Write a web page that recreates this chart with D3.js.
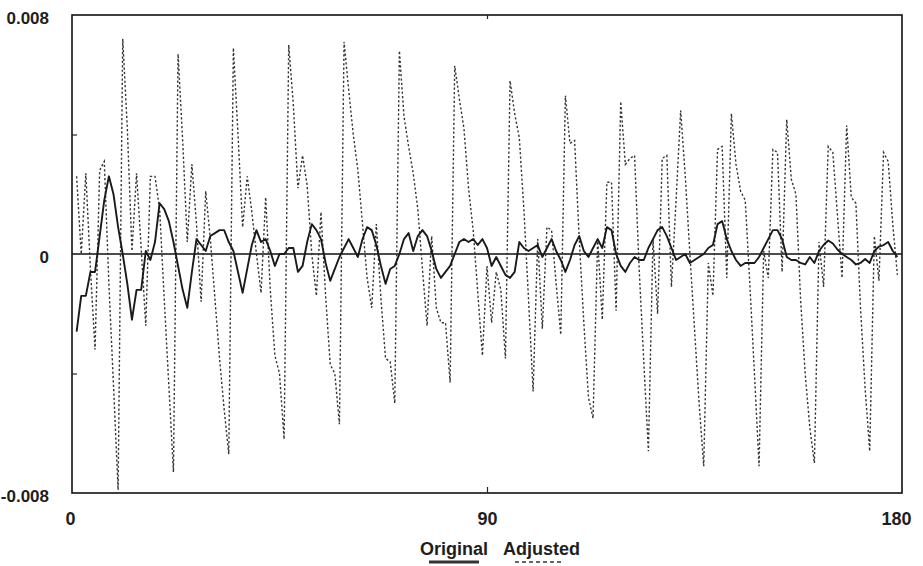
<!DOCTYPE html>
<html>
<head>
<meta charset="utf-8">
<script src="https://cdn.jsdelivr.net/npm/d3@7"></script>
<style>
  html, body { margin: 0; padding: 0; background: #fff; }
  svg { display: block; }
  .lbl { font-family: "Liberation Sans", Arial, sans-serif; font-size: 18px; font-weight: bold; fill: #1e1e1e; }
  .ylbl { font-size: 17px; }
</style>
</head>
<body>
<div id="chart"></div>
<script>
// monthly series, first value is month 1
const firstMonth = 1;

// "Original" (solid line)
const original = [
  -0.0026, -0.0014, -0.0014, -0.0006, -0.0006, 0.0006, 0.0018, 0.0026, 0.0020, 0.0009, 0.0000, -0.0010,
  -0.0022, -0.0012, -0.0012, 0.0001, -0.0002, 0.0004, 0.0017, 0.0015, 0.0011, 0.0004, -0.0004, -0.0012,
  -0.0018, -0.0006, 0.0005, 0.0003, 0.0001, 0.0006, 0.0007, 0.0008, 0.0008, 0.0004, 0.0001, -0.0006,
  -0.0013, -0.0005, 0.0003, 0.0008, 0.0004, 0.0005, 0.0001, -0.0004, 0.0000, 0.0000, 0.0002, 0.0002,
  -0.0006, -0.0004, 0.0004, 0.0010, 0.0008, 0.0005, -0.0003, -0.0009, -0.0005, -0.0001, 0.0002, 0.0005,
  0.0002, -0.0001, 0.0005, 0.0009, 0.0008, 0.0003, -0.0004, -0.0010, -0.0005, -0.0004, 0.0000, 0.0005,
  0.0007, 0.0001, 0.0006, 0.0008, 0.0006, 0.0001, -0.0005, -0.0008, -0.0006, -0.0004, 0.0000, 0.0004,
  0.0005, 0.0004, 0.0005, 0.0003, 0.0005, 0.0002, -0.0004, -0.0001, -0.0004, -0.0007, -0.0008, -0.0006,
  0.0004, 0.0002, 0.0001, 0.0002, 0.0003, -0.0001, 0.0002, 0.0005, 0.0001, -0.0002, -0.0006, -0.0002,
  0.0003, 0.0006, 0.0001, -0.0001, 0.0002, 0.0005, 0.0002, 0.0009, 0.0008, 0.0000, -0.0004, -0.0006,
  -0.0003, -0.0001, -0.0002, -0.0002, 0.0002, 0.0005, 0.0008, 0.0009, 0.0006, 0.0002, -0.0002, -0.0001,
  0.0000, -0.0003, -0.0002, -0.0001, 0.0000, 0.0002, 0.0003, 0.0010, 0.0011, 0.0005, 0.0001, -0.0002,
  -0.0004, -0.0003, -0.0003, -0.0003, -0.0001, 0.0002, 0.0005, 0.0008, 0.0008, 0.0005, -0.0001, -0.0002,
  -0.0002, -0.0003, -0.00035, -0.0001, -0.0003, 0.0001, 0.0003, 0.00045, 0.00035, 0.00015, 0.0000, -0.0001,
  -0.0002, -0.00035, -0.0003, -0.00017, -0.0003, 0.0001, 0.00025, 0.0003, 0.0004, 0.0001, -0.0001
];

// "Adjusted" (dotted line)
const adjusted = [
  0.0026, 0.0000, 0.0027, -0.0005, -0.0032, 0.0028, 0.0031, -0.0010, -0.0044, -0.0079, 0.0072, 0.0042,
  0.0001, 0.0027, 0.0002, -0.0024, 0.0026, 0.0026, 0.0015, -0.0015, -0.0044, -0.0073, 0.0067, 0.0038,
  0.0004, 0.0030, 0.0010, -0.0016, 0.0021, 0.0005, -0.0015, -0.0035, -0.0052, -0.0067, 0.0069, 0.0040,
  0.0009, 0.0026, 0.0014, 0.0000, -0.0013, 0.0019, -0.0012, -0.0034, -0.0040, -0.0062, 0.0070, 0.0050,
  0.0022, 0.0033, 0.0023, 0.0000, -0.0014, 0.0014, -0.0014, -0.0037, -0.0040, -0.0057, 0.0071, 0.0055,
  0.0040, 0.0028, 0.0010, -0.0008, -0.0018, 0.0010, -0.0015, -0.0035, -0.0036, -0.0050, 0.0068, 0.0046,
  0.0036, 0.0027, 0.0015, -0.0005, -0.0024, 0.0006, -0.0018, -0.0023, -0.0023, -0.0043, 0.0063, 0.0052,
  0.0042, 0.0022, 0.0008, -0.0013, -0.0034, -0.0004, -0.0023, -0.0006, -0.0012, -0.0035, 0.0058, 0.0047,
  0.0039, 0.0015, -0.0015, -0.0046, 0.0005, -0.0025, 0.0009, 0.0008, -0.0010, -0.0027, 0.0053, 0.0037,
  0.0038, 0.0005, -0.0023, -0.0048, -0.0055, 0.0005, -0.0022, 0.0024, 0.0024, -0.0019, 0.0051, 0.0030,
  0.0032, 0.0033, -0.0005, -0.0036, -0.0066, 0.0005, -0.0020, 0.0032, 0.0033, -0.0011, 0.0018, 0.0048,
  0.0026, 0.0000, -0.0025, -0.0050, -0.0071, -0.0003, -0.0014, 0.0035, 0.0036, -0.0008, 0.0047, 0.0030,
  0.0021, 0.0018, -0.0010, -0.0040, -0.0071, 0.0001, -0.0008, 0.0035, 0.0034, -0.0006, 0.0045, 0.0025,
  0.0020, -0.0015, -0.0040, -0.0058, -0.0070, 0.0004, -0.0011, 0.0036, 0.0034, 0.0013, -0.0008, 0.0043,
  0.0019, 0.0017, -0.0018, -0.0045, -0.0066, 0.0006, -0.0009, 0.0034, 0.0031, 0.0010, -0.0007
];

const xTicks = [0, 90, 180];
const yTicks = [0.008, 0, -0.008];
const yTickLabels = ["0.008", "0", "-0.008"];
const yMinorTicks = [0.004, -0.004];
const seriesNames = ["Original", "Adjusted"];

const width = 923, height = 566;
const plot = {left: 72, right: 902, top: 15, bottom: 493};

const svg = d3.select("#chart").append("svg")
  .attr("width", width)
  .attr("height", height);

svg.append("rect").attr("width", width).attr("height", height).attr("fill", "#fff");

const x = d3.scaleLinear().domain([0, 180]).range([plot.left, plot.right]);
const y = d3.scaleLinear().domain([-0.008, 0.008]).range([plot.bottom, plot.top]);

// frame
svg.append("rect")
  .attr("x", plot.left).attr("y", plot.top)
  .attr("width", plot.right - plot.left)
  .attr("height", plot.bottom - plot.top)
  .attr("fill", "none")
  .attr("stroke", "#111")
  .attr("stroke-width", 1.6);

// y tick labels
const yAxis = svg.append("g")
  .attr("transform", `translate(${plot.left},3)`)
  .call(d3.axisLeft(y).tickValues(yTicks).tickSize(0).tickPadding(23)
    .tickFormat((d, i) => yTickLabels[i]));
yAxis.select(".domain").remove();
yAxis.selectAll("text").attr("class", "lbl ylbl").attr("font-size", null).attr("font-family", null);

// small inner ticks on left axis
svg.append("g")
  .attr("transform", `translate(${plot.left},0)`)
  .call(d3.axisRight(y).tickValues(yMinorTicks).tickSize(5).tickFormat(""))
  .call(g => g.select(".domain").remove())
  .selectAll("line").attr("stroke", "#222").attr("stroke-width", 1.2);

// x tick labels
const xAxis = svg.append("g")
  .attr("transform", `translate(0,${plot.bottom})`)
  .call(d3.axisBottom(x).tickValues(xTicks).tickSize(0).tickPadding(19)
    .tickFormat(d3.format("d")));
xAxis.select(".domain").remove();
xAxis.selectAll("text").attr("class", "lbl").attr("font-size", null).attr("font-family", null)
  .attr("dx", d => d === 0 ? -2 : d === 180 ? -6 : 0);

// inner tick at 90 (bottom and top)
svg.append("g")
  .attr("transform", `translate(0,${plot.bottom})`)
  .call(d3.axisTop(x).tickValues([90]).tickSize(6).tickFormat(""))
  .call(g => g.select(".domain").remove())
  .selectAll("line").attr("stroke", "#222").attr("stroke-width", 1.2);
svg.append("g")
  .attr("transform", `translate(0,${plot.top})`)
  .call(d3.axisBottom(x).tickValues([90]).tickSize(4).tickFormat(""))
  .call(g => g.select(".domain").remove())
  .selectAll("line").attr("stroke", "#222").attr("stroke-width", 1.2);

// zero line
svg.append("line")
  .attr("x1", plot.left).attr("x2", plot.right)
  .attr("y1", y(0)).attr("y2", y(0))
  .attr("stroke", "#111").attr("stroke-width", 1.4);

const line = d3.line()
  .x((d, i) => x(firstMonth + i))
  .y(d => y(d));

// dotted series
svg.append("path")
  .datum(adjusted)
  .attr("d", line)
  .attr("fill", "none")
  .attr("stroke", "#333")
  .attr("stroke-width", 1.4)
  .attr("stroke-dasharray", "2.2,2.2");

// solid series
svg.append("path")
  .datum(original)
  .attr("d", line)
  .attr("fill", "none")
  .attr("stroke", "#1a1a1a")
  .attr("stroke-width", 1.9)
  .attr("stroke-linejoin", "round");

// legend
const legend = svg.append("g");
legend.append("text").attr("class", "lbl")
  .attr("x", 420).attr("y", 555).text(seriesNames[0]);
legend.append("text").attr("class", "lbl")
  .attr("x", 503).attr("y", 555).text(seriesNames[1]);
legend.append("line")
  .attr("x1", 429).attr("x2", 479).attr("y1", 562).attr("y2", 562)
  .attr("stroke", "#333").attr("stroke-width", 2.8);
legend.append("line")
  .attr("x1", 515).attr("x2", 562).attr("y1", 562).attr("y2", 562)
  .attr("stroke", "#333").attr("stroke-width", 1.5)
  .attr("stroke-dasharray", "4,3");
</script>
</body>
</html>
